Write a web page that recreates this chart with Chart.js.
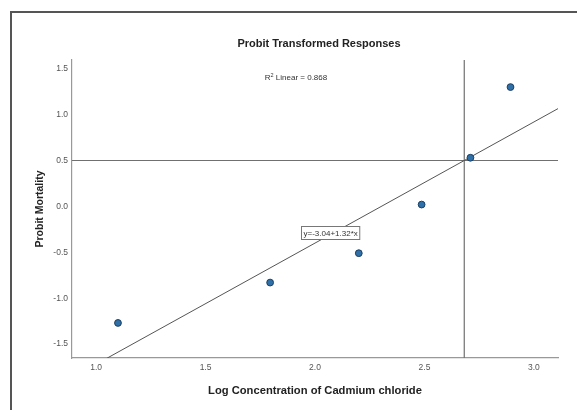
<!DOCTYPE html>
<html>
<head>
<meta charset="utf-8">
<script src="https://cdn.jsdelivr.net/npm/chart.js@4/dist/chart.umd.min.js"></script>
<style>
  body { margin: 0; background: #fff; }
  canvas { display: block; }
</style>
</head>
<body>
<canvas id="probitChart" width="577" height="410"></canvas>
<script>
// observed points
const logConc = [1.10, 1.795, 2.20, 2.487, 2.71, 2.893];
const probit = [-1.27, -0.83, -0.51, 0.02, 0.53, 1.30];

const xTicks = [1.0, 1.5, 2.0, 2.5, 3.0];
const yTicks = [-1.5, -1.0, -0.5, 0.0, 0.5, 1.0, 1.5];

const xMin = 0.89, xMax = 3.11;
const yMin = -1.652, yMax = 1.595;

// fit: y = -3.04 + 1.32 * x
const intercept = -3.04;
const slope = 1.32;
const rSquared = 0.868;
const refY = 0.5;
const refX = (refY - intercept) / slope;

const font = "'Liberation Sans', Arial, sans-serif";

const textPlugin = {
  id: 'texts',
  beforeDraw(chart) {
    const ctx = chart.ctx;
    ctx.save();
    ctx.fillStyle = '#fff';
    ctx.fillRect(0, 0, chart.width, chart.height);
    ctx.strokeStyle = '#555';
    ctx.lineWidth = 2;
    ctx.strokeRect(11, 12, 700, 500);
    ctx.restore();
  },
  afterDraw(chart) {
    const ctx = chart.ctx;
    const area = chart.chartArea;
    const cx = (area.left + area.right) / 2;
    ctx.save();
    ctx.fillStyle = '#222';
    ctx.textAlign = 'center';
    ctx.textBaseline = 'middle';

    ctx.font = 'bold 11px ' + font;
    ctx.fillText('Probit Transformed Responses', cx + 4, 44);

    ctx.font = 'bold 11.2px ' + font;
    ctx.fillText('Log Concentration of Cadmium chloride', cx, 391);

    ctx.save();
    ctx.translate(40, (area.top + area.bottom) / 2);
    ctx.rotate(-Math.PI / 2);
    ctx.font = 'bold 10.5px ' + font;
    ctx.fillText('Probit Mortality', 0, 0);
    ctx.restore();

    // R squared note
    ctx.fillStyle = '#333';
    ctx.textAlign = 'left';
    ctx.font = '8px ' + font;
    const rest = ' Linear = ' + rSquared.toFixed(3);
    const wR = ctx.measureText('R').width;
    ctx.font = '5.5px ' + font;
    const w2 = ctx.measureText('2').width;
    ctx.font = '8px ' + font;
    const total = wR + w2 + ctx.measureText(rest).width;
    let x0 = 296 - total / 2;
    ctx.fillText('R', x0, 78);
    ctx.font = '5.5px ' + font;
    ctx.fillText('2', x0 + wR, 75);
    ctx.font = '8px ' + font;
    ctx.fillText(rest, x0 + wR + w2, 78);

    // equation label
    const eq = 'y=' + intercept.toFixed(2) + '+' + slope.toFixed(2) + '*x';
    ctx.font = '8px ' + font;
    const wEq = ctx.measureText(eq).width;
    const bx = 301.5, by = 226.5, bh = 13;
    ctx.fillStyle = '#fff';
    ctx.fillRect(bx, by, wEq + 4, bh);
    ctx.strokeStyle = '#777';
    ctx.lineWidth = 1;
    ctx.strokeRect(bx, by, wEq + 4, bh);
    ctx.fillStyle = '#333';
    ctx.fillText(eq, bx + 2, by + bh / 2 + 0.5);
    ctx.restore();
  }
};

const ctx = document.getElementById('probitChart').getContext('2d');
new Chart(ctx, {
  type: 'scatter',
  data: {
    datasets: [
      {
        label: 'Observed',
        data: logConc.map((x, i) => ({ x: x, y: probit[i] })),
        backgroundColor: '#2f70a8',
        borderColor: '#1e3f60',
        borderWidth: 1,
        pointRadius: 3.4,
        order: 0
      },
      {
        label: 'Fit',
        type: 'line',
        data: [xMin, xMax].map(x => ({ x: x, y: intercept + slope * x })),
        borderColor: '#555',
        borderWidth: 1,
        pointRadius: 0,
        fill: false,
        order: 1
      },
      {
        label: 'ref y',
        type: 'line',
        data: [{ x: xMin, y: refY }, { x: xMax, y: refY }],
        borderColor: '#707070',
        borderWidth: 1.2,
        pointRadius: 0,
        order: 2
      },
      {
        label: 'ref x',
        type: 'line',
        data: [{ x: refX, y: yMin }, { x: refX, y: yMax }],
        borderColor: '#707070',
        borderWidth: 1.2,
        pointRadius: 0,
        order: 2
      }
    ]
  },
  options: {
    responsive: false,
    devicePixelRatio: 1,
    animation: false,
    layout: { padding: { left: 0, top: 60, right: 19, bottom: 0 } },
    plugins: {
      legend: { display: false },
      tooltip: { enabled: false },
      title: { display: false }
    },
    scales: {
      x: {
        type: 'linear',
        min: xMin,
        max: xMax,
        grid: { display: false, drawTicks: false, tickLength: 0 },
        border: { display: true, color: '#999', width: 1.2 },
        afterBuildTicks: s => { s.ticks = xTicks.map(v => ({ value: v })); },
        afterFit: s => { s.height = 52; },
        ticks: {
          padding: 5,
          color: '#555',
          font: { family: font, size: 8.5 },
          callback: v => v.toFixed(1)
        }
      },
      y: {
        type: 'linear',
        min: yMin,
        max: yMax,
        grid: { display: false, drawTicks: false, tickLength: 0 },
        border: { display: true, color: '#999', width: 1.2 },
        afterBuildTicks: s => { s.ticks = yTicks.map(v => ({ value: v })); },
        afterFit: s => { s.width = 72; },
        ticks: {
          padding: 4,
          color: '#555',
          font: { family: font, size: 8.5 },
          callback: v => v.toFixed(1)
        }
      }
    }
  },
  plugins: [textPlugin]
});
</script>
</body>
</html>
